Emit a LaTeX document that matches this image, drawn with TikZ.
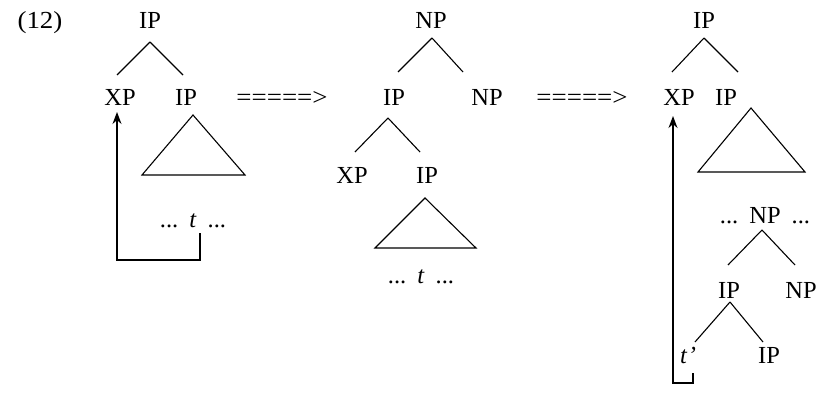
\documentclass[tikz,border=0pt]{standalone}
\usepackage{fontspec}
\setmainfont{Liberation Serif}
\usetikzlibrary{arrows.meta}
\newcommand{\gp}{\hspace{0.45em}}
\begin{document}
\begin{tikzpicture}[x=1pt,y=-1pt,
  lab/.style={anchor=base,inner sep=0pt,font=\fontsize{24.5}{28}\selectfont},
  br/.style={line width=1.1pt},
  mv/.style={line width=1.4pt,-{Stealth[length=12pt,width=9pt]}}]
\useasboundingbox (0,0) rectangle (830,396);
% label
\node[lab] (num) at (40,29) {\scalebox{1.1}[1]{(12)}};
% ---------- tree 1
\node[lab] (a0) at (150,29) {IP};
\node[lab] (a1) at (120,106) {XP};
\node[lab] (a2) at (186,106) {IP};
\draw[br] (150,42) -- (117,75);
\draw[br] (150,42) -- (183,75);
\draw[br] (193,115) -- (142,175) -- (245,175) -- cycle;
\node[lab] (a3) at (193,227) {...\gp\textit{t}\gp...};
\coordinate (h1) at (200,233);
\coordinate (c1) at (117,260);
\coordinate (e1) at (117,112);
\draw[mv] (h1) |- (c1) -- (e1);
% arrows
\node[lab] (r1) at (282,106) {\scalebox{1.1}[1]{=====>}};
\node[lab] (r2) at (582,106) {\scalebox{1.1}[1]{=====>}};
% ---------- tree 2
\node[lab] (b0) at (431,29) {NP};
\node[lab] (b1) at (394,106) {IP};
\node[lab] (b2) at (487,106) {NP};
\draw[br] (432,38) -- (398,72);
\draw[br] (432,38) -- (463,72);
\node[lab] (b3) at (352,183) {XP};
\node[lab] (b4) at (427,183) {IP};
\draw[br] (388,118) -- (355,152);
\draw[br] (388,118) -- (420,152);
\draw[br] (425,198) -- (375,248) -- (476,248) -- cycle;
\node[lab] (b5) at (421,283) {...\gp\textit{t}\gp...};
% ---------- tree 3
\node[lab] (c0) at (704,29) {IP};
\node[lab] (c1n) at (679,106) {XP};
\node[lab] (c2) at (726,106) {IP};
\draw[br] (704,38) -- (672,72);
\draw[br] (704,38) -- (738,72);
\draw[br] (751,108) -- (698,172) -- (805,172) -- cycle;
\node[lab] (c3) at (765,223) {...\gp NP\gp...};
\draw[br] (762,230) -- (728,265);
\draw[br] (762,230) -- (795,265);
\node[lab] (c4) at (729,298) {IP};
\node[lab] (c5) at (801,298) {NP};
\draw[br] (730,302) -- (695,342);
\draw[br] (730,302) -- (763,342);
\node[lab] (c6) at (688,363) {\textit{t\kern1pt'}};
\node[lab] (c7) at (769,363) {IP};
\coordinate (h2) at (693,373);
\coordinate (k2) at (673,383);
\coordinate (e2) at (673,116);
\draw[mv] (h2) |- (k2) -- (e2);
\end{tikzpicture}
\end{document}
